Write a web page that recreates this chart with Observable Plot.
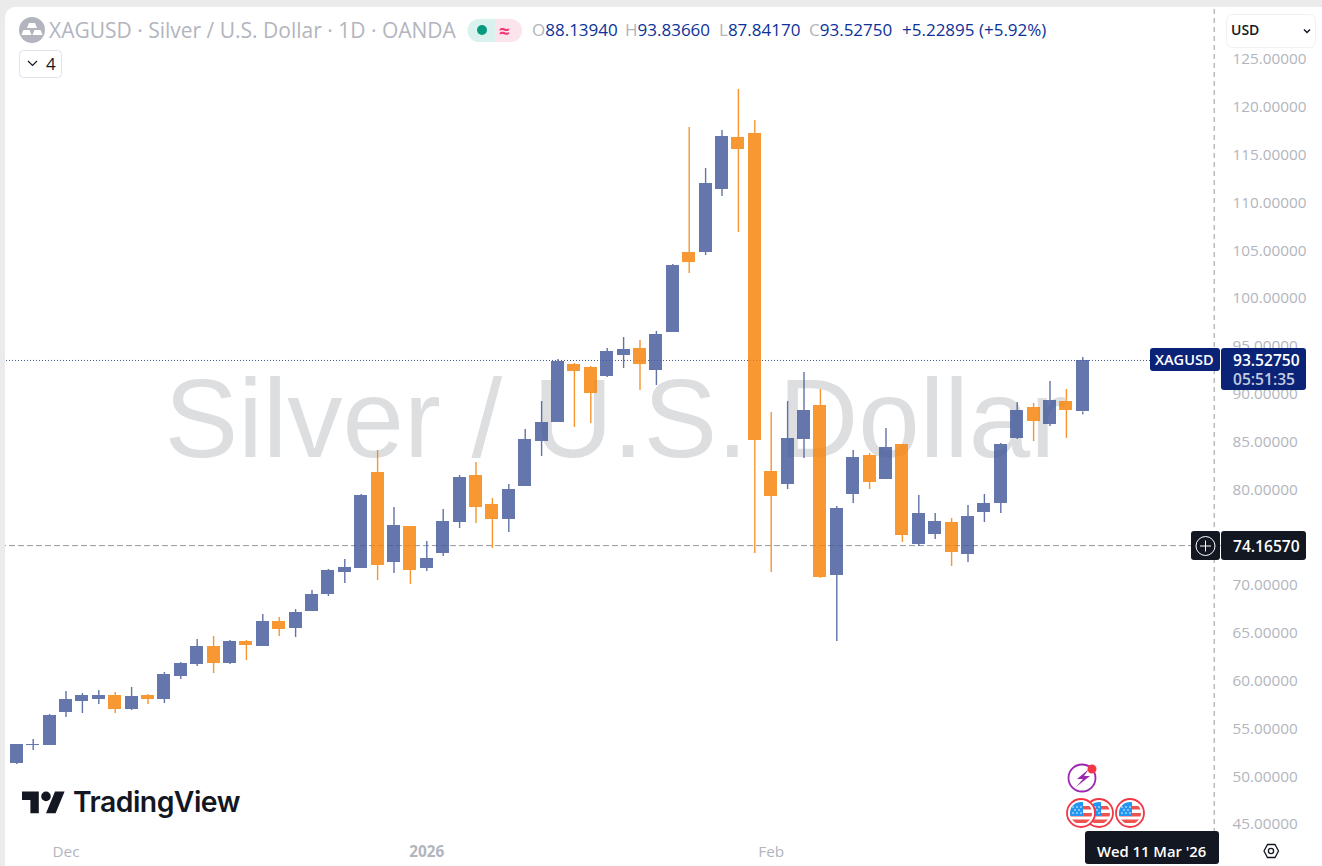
<!DOCTYPE html>
<html>
<head>
<meta charset="utf-8">
<script src="https://cdn.jsdelivr.net/npm/d3@7"></script>
<script src="https://cdn.jsdelivr.net/npm/@observablehq/plot@0.6"></script>
<style>
html,body{margin:0;padding:0;background:#fff;overflow:hidden}
#wrap{position:relative;width:1322px;height:866px;font-family:"Open Sans",sans-serif;overflow:hidden}
#chart svg{display:block}
.abs{position:absolute;white-space:nowrap}
.g{color:#b2b5be}
.n{color:#0c3299}
#overlay{position:absolute;left:0;top:0;pointer-events:none}
</style>
</head>
<body>
<div id="wrap">
  <div id="chart"></div>
  <div class="abs" style="left:0;top:0;width:1322px;height:7px;background:#ebebeb"></div>
  <div class="abs" style="left:0;top:0;width:5px;height:866px;background:#ebebeb"></div>
  <svg id="overlay" width="1322" height="866">
    <path d="M5 7h10a10 10 0 0 0-10 10z" fill="#ebebeb"/>
    <circle cx="32" cy="30" r="13" fill="#b2b5be"/>
    <g fill="#fff"><path d="M29 23h6l2 5h-10z"/><path d="M23.500 30h6l2 5h-10z"/><path d="M34.500 30h6l2 5h-10z"/></g>
    <path d="M479 19h16v23h-16a11.500 11.500 0 0 1 0-23z" fill="#daf2ee"/>
    <path d="M495 19h15.500a11.500 11.500 0 0 1 0 23h-15.500z" fill="#fce4ec"/>
    <circle cx="482" cy="30" r="5" fill="#089981"/>
    <rect x="19.500" y="50.500" width="42" height="27" rx="4" fill="#fff" stroke="#e0e3eb"/>
    <path d="M28 61l4.500 4.500 4.500-4.500" fill="none" stroke="#131722" stroke-width="1.200"/>
    <rect x="1226.500" y="14.500" width="89" height="33" rx="6" fill="#fff" stroke="#f0f1f3"/>
    <path d="M1304 29.500l3 3 3-3" fill="none" stroke="#131722" stroke-width="1.500"/>
    <rect x="1150" y="348" width="70" height="23" rx="3" fill="#0a2377"/>
    <rect x="1221" y="348" width="85" height="42" rx="3" fill="#0a2377"/>
    <rect x="1191" y="531" width="29" height="29" rx="3" fill="#131722"/>
    <rect x="1221" y="531" width="85" height="29" rx="3" fill="#131722"/>
    <circle cx="1205.500" cy="546" r="9.500" fill="none" stroke="#fff"/>
    <path d="M1200 546h11M1205.500 540.500v11" stroke="#fff"/>
    <rect x="1085" y="831" width="134" height="33" rx="3" fill="#131722"/>
    <path d="M1264 851l3.500-6.500h7.500l3.500 6.500-3.500 6.500h-7.500z" fill="none" stroke="#131722" stroke-width="1.300"/>
    <circle cx="1271" cy="851" r="2.600" fill="none" stroke="#131722" stroke-width="1.300"/>
    <g transform="translate(22,791) scale(1.2)" fill="#131722">
      <path d="M14 18.500H7V7.500H0V.5h14zM28 18.500h-8l7.500-18h8z"/><circle cx="20" cy="4.500" r="4"/>
    </g>
    <circle cx="1082" cy="778" r="13.500" fill="#fff" stroke="#9c27b0" stroke-width="1.800"/>
    <path d="M1089 769l-12 10h6l-7 8 14-11h-6z" fill="#9c27b0"/>
    <circle cx="1092" cy="769" r="4.500" fill="#f23645"/>
    <g id="flags"></g>
  </svg>
  <div class="abs g" id="title" style="left:49px;top:16px;font-size:21px;line-height:28px">XAGUSD · Silver / U.S. Dollar · 1D · OANDA</div>
  <div class="abs" style="left:499px;top:19px;font-size:19px;font-weight:700;line-height:24px;color:#f23672">≈</div>
  <div class="abs" style="left:46px;top:50px;font-size:17px;line-height:28px;color:#131722">4</div>
  <div class="abs" style="left:1231px;top:19px;font-size:14px;line-height:22px;font-weight:600;color:#131722">USD</div>
  <div class="abs" style="left:532px;top:18px;font-size:17px;line-height:24px"><span class="g">O</span><span class="n">88.13940</span></div>
  <div class="abs" style="left:625px;top:18px;font-size:17px;line-height:24px"><span class="g">H</span><span class="n">93.83660</span></div>
  <div class="abs" style="left:719px;top:18px;font-size:17px;line-height:24px"><span class="g">L</span><span class="n">87.84170</span></div>
  <div class="abs" style="left:809px;top:18px;font-size:17px;line-height:24px"><span class="g">C</span><span class="n">93.52750</span></div>
  <div class="abs n" style="left:902px;top:18px;font-size:17px;line-height:24px">+5.22895 (+5.92%)</div>
  <div class="abs" style="left:73px;top:783px;font-family:Inter,sans-serif;font-size:28.300px;line-height:38px;font-weight:600;letter-spacing:-.5px;color:#131722">TradingView</div>
  <div class="abs" style="left:1155px;top:349px;font-size:14.500px;line-height:22px;font-weight:600;color:#fff">XAGUSD</div>
  <div class="abs" style="left:1233px;top:349px;font-size:15.600px;line-height:22px;font-weight:600;color:#fff">93.52750</div>
  <div class="abs" style="left:1233px;top:368px;font-size:15.600px;line-height:22px;font-weight:600;color:#c5cbe0">05:51:35</div>
  <div class="abs" style="left:1233px;top:535px;font-size:15.600px;line-height:22px;font-weight:600;color:#fff">74.16570</div>
  <div class="abs" style="left:1097px;top:840px;font-size:14.800px;line-height:22px;font-weight:600;color:#fff">Wed 11 Mar '26</div>
</div>
<script>
const opens = [51.38,53.26,53.26,56.71,57.86,58.07,58.49,57.03,58.49,58.07,60.48,61.73,63.61,61.84,64.14,63.61,66.23,65.50,67.27,69.05,71.35,71.77,81.81,72.40,76.16,71.77,73.34,76.58,81.50,78.46,76.90,80.35,85.05,87.04,93.10,92.79,91.85,94.05,94.78,92.48,96.45,104.82,104.82,111.41,116.84,117.26,81.92,80.56,85.26,88.82,71.04,79.51,83.59,81.08,84.74,74.28,75.33,76.58,73.24,77.63,78.57,85.37,88.61,86.83,89.24,88.1394];
const highs = [53.37,53.89,56.50,58.91,58.70,59.01,58.80,59.33,58.59,60.90,61.94,64.35,64.66,64.24,64.24,66.96,66.65,67.48,69.47,71.67,72.71,79.51,84.11,78.15,76.16,74.59,77.94,81.50,82.86,79.09,80.56,86.31,89.24,93.63,93.21,92.89,94.78,95.93,95.61,96.56,103.56,117.89,113.60,117.57,121.86,118.62,88.08,89.24,92.27,90.49,78.25,84.11,83.80,86.41,84.74,79.41,77.52,77.00,78.36,79.51,84.84,89.13,89.03,91.33,90.49,93.8366];
const lows = [51.27,52.74,53.26,56.19,56.61,57.55,56.61,56.92,57.55,57.65,60.16,61.52,60.79,61.73,62.15,63.61,64.66,64.56,67.27,68.84,70.20,71.77,70.52,71.25,70.10,71.46,73.03,75.95,76.48,73.86,75.54,80.35,83.48,87.04,86.52,86.93,91.75,92.69,90.39,90.91,96.45,102.62,104.50,110.67,106.91,73.34,71.35,80.03,83.27,70.73,64.14,78.57,80.03,81.08,74.49,74.07,74.80,71.98,72.40,76.58,77.52,85.26,85.05,86.62,85.37,87.8417];
const closes = [53.37,53.37,56.40,58.07,58.49,58.49,57.03,58.39,58.07,60.69,61.84,63.61,61.84,64.14,63.72,66.23,65.39,67.17,69.05,71.56,71.88,79.41,72.08,76.27,71.56,72.82,76.69,81.29,78.15,76.90,80.03,85.26,87.04,93.42,92.37,90.07,94.46,94.67,93.10,96.24,103.46,103.77,112.03,116.95,115.59,85.16,79.30,85.37,88.29,70.83,78.05,83.38,80.76,84.42,75.22,77.52,76.69,73.44,77.21,78.57,84.74,88.29,87.14,89.34,88.29,93.5275];
const priceTicks = [45,50,55,60,65,70,80,85,90,95,100,105,110,115,120,125];
const lastPrice = 93.5275;
const crosshairPrice = 74.1657;
const watermark = "Silver / U.S. Dollar";

const bars = opens.map((o, i) => ({
  i, open: o, high: highs[i], low: lows[i], close: closes[i],
  dir: closes[i] >= o ? "up" : "down",
  top: Math.max(o, closes[i]), bottom: Math.min(o, closes[i])
}));
const slots = d3.range(opens.length + 8); // empty slots to the right of the last bar

const axisFont = {fontFamily: "Open Sans", fontSize: 15.3, fill: "#b2b5be", color: "#b2b5be"};
const chart = Plot.plot({
  width: 1322, height: 866,
  marginLeft: 0, marginRight: 90, marginTop: 0, marginBottom: 29,
  style: {background: "transparent", fontFamily: "Open Sans"},
  x: {type: "band", domain: slots, range: [8.1, 8.1 + 16.4 * slots.length], paddingInner: 0.206, paddingOuter: 0.103, round: false, axis: null},
  y: {type: "linear", domain: [45, 125], range: [824, 59], axis: null},
  color: {domain: ["up", "down"], range: ["#455a9a", "#f7830a"]},
  marks: [
    Plot.text([watermark], {frameAnchor: "top-left", dx: 164, dy: 456, lineAnchor: "bottom", textAnchor: "start", fontSize: 110.5, fontFamily: "Liberation Sans", fill: "#dddee0"}),
    Plot.ruleY([crosshairPrice], {stroke: "#9598a1", strokeDasharray: "6,3", strokeWidth: 1}),
    Plot.ruleY([lastPrice], {stroke: "#3f5187", strokeDasharray: "1,2", strokeWidth: 1}),
    Plot.ruleX([slots.length - 1], {dx: 0.2, stroke: "#9598a1", strokeDasharray: "5,4", strokeWidth: 1}),
    Plot.ruleX(bars, {x: "i", y1: "high", y2: "top", stroke: "dir", strokeWidth: 1.4, opacity: 0.85}),
    Plot.ruleX(bars, {x: "i", y1: "bottom", y2: "low", stroke: "dir", strokeWidth: 1.4, opacity: 0.85}),
    Plot.barY(bars, {x: "i", y1: "bottom", y2: "top", fill: "dir", opacity: 0.83, shapeRendering: "crispEdges"}),
    Plot.axisY(priceTicks, {anchor: "right", tickSize: 0, tickPadding: 0, tickFormat: d3.format(".5f"), textAnchor: "start", label: null, ...axisFont}),
    Plot.axisX([3, 46], {anchor: "bottom", tickSize: 0, tickPadding: 9, tickFormat: d => d === 3 ? "Dec" : "Feb", label: null, ...axisFont}),
    Plot.axisX([25], {anchor: "bottom", tickSize: 0, tickPadding: 9, tickFormat: () => "2026", fontWeight: 700, label: null, ...axisFont})
  ]
});
document.getElementById("chart").appendChild(chart);

// US-flag event badges, drawn right to left so the left badge overlaps its neighbour
const flagGroup = document.getElementById("flags");
[1130, 1099, 1081].forEach((cx, k) => {
  const id = "fc" + k;
  const stars = [[-8,-6],[-4,-6],[0,-6],[-6,-3],[-2,-3],[-8,0],[-4,0],[0,0]]
    .map(([dx, dy]) => `<circle cx="${cx+dx}" cy="${813+dy}" r="0.8" fill="#fff"/>`).join("");
  flagGroup.insertAdjacentHTML("beforeend", `
    <clipPath id="${id}"><circle cx="${cx}" cy="813" r="11"/></clipPath>
    <circle cx="${cx}" cy="813" r="14" fill="#fff" stroke="#f23645" stroke-width="1.800"/>
    <g clip-path="url(#${id})">
      <rect x="${cx-12}" y="802" width="24" height="22" fill="#fff"/>
      <rect x="${cx-12}" y="806" width="24" height="3.500" fill="#ef5350"/>
      <rect x="${cx-12}" y="813" width="24" height="3.500" fill="#ef5350"/>
      <rect x="${cx-12}" y="819.500" width="24" height="3.500" fill="#ef5350"/>
      <rect x="${cx-12}" y="802" width="14" height="14" fill="#2196f3"/>
      ${stars}
    </g>`);
});
</script>
</body>
</html>
